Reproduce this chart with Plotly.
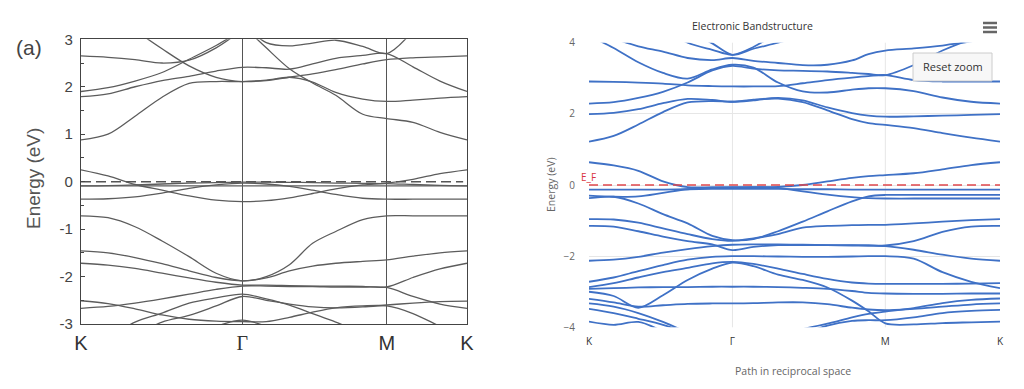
import plotly.graph_objects as go

# The page body adds an 8px margin; the figure is sized to fill the rest of the 1024x389 window.
OFF = 8
W, H = 1024 - OFF, 389 - OFF

# ---------------- Left panel (a): k-path K-Γ-M-K, energies in eV ----------------
LEFT_TICKS = ["K", "Γ", "M", "K"]
LEFT_POS = [0.0, 0.418, 0.792, 1.0]
LK = [0, 0.07, 0.14, 0.21, 0.28, 0.35, 0.418, 0.48, 0.54, 0.60, 0.66, 0.73, 0.792, 0.86, 0.93, 1.0]

left_c1 = [0.88, 1.0, 1.38, 1.78, 2.07, 2.11, 2.11, 2.14, 2.2, 2.1, 1.88, 1.74, 1.69, 1.72, 1.76, 1.79]
left_c2 = [None, None, 3.19, 2.8, 2.44, 2.2, 2.11, 2.13, 2.2, 2.27, 2.36, 2.48, 2.57, 2.61, 2.63, 2.65]
left_c3 = [2.65, 2.62, 2.57, 2.5, 2.56, 2.82, 3.2, None, None, None, None, None, None, None, None, None]
left_c4 = [1.90, 1.98, 2.12, 2.3, 2.58, 2.87, 3.2, None, None, None, None, None, None, None, None, None]
left_c5 = [1.79, 1.85, 2.0, 2.13, 2.22, 2.33, 2.41, 2.4, 2.37, 2.48, 2.6, 2.66, 2.70, 2.42, 2.12, 1.90]
left_c6 = [None, None, None, None, None, None, 3.3, 2.82, 2.38, 2.08, 1.82, 1.42, 1.33, 1.25, 1.04, 0.88]
left_c7 = [None, None, None, None, None, None, 3.35, 2.93, 2.86, 2.92, 2.98, 2.85, 2.70, 3.18, None, None]

left_v1 = [0.25, 0.12, -0.06, -0.18, -0.3, -0.39, -0.42, -0.4, -0.34, -0.25, -0.15, -0.07, -0.03, 0.05, 0.17, 0.25]
left_v2 = [-0.37, -0.36, -0.32, -0.24, -0.14, -0.07, -0.03, -0.05, -0.1, -0.18, -0.27, -0.35, -0.37, -0.37, -0.37, -0.37]
left_v3 = [-0.09, -0.085, -0.07, -0.05, -0.03, -0.02, -0.01, -0.01, -0.015, -0.02, -0.03, -0.035, -0.04, -0.06, -0.08, -0.09]
left_v4 = [-0.09, -0.09, -0.09, -0.09, -0.09, -0.09, -0.09, -0.09, -0.09, -0.09, -0.09, -0.09, -0.09, -0.09, -0.09, -0.09]
left_v5 = [-0.72, -0.76, -0.95, -1.25, -1.58, -1.93, -2.09, -2.0, -1.75, -1.3, -1.05, -0.8, -0.72, -0.72, -0.72, -0.72]
left_v6 = [-1.46, -1.5, -1.6, -1.73, -1.88, -2.02, -2.09, -2.03, -1.88, -1.78, -1.72, -1.68, -1.65, -1.57, -1.5, -1.46]
left_v7 = [-1.72, -1.76, -1.83, -1.93, -2.03, -2.12, -2.18, -2.18, -2.19, -2.2, -2.2, -2.21, -2.22, -2.02, -1.84, -1.72]
left_v8 = [-2.67, -2.63, -2.56, -2.47, -2.37, -2.27, -2.2, -2.2, -2.21, -2.21, -2.22, -2.22, -2.23, -2.42, -2.58, -2.67]
left_v9 = [None, -3.3, -2.96, -2.77, -2.56, -2.45, -2.37, -2.47, -2.6, -2.78, -2.96, -3.2, None, None, None, None]
left_v10 = [None, None, -3.25, -2.96, -2.82, -2.62, -2.42, -2.5, -2.58, -2.64, -2.66, -2.64, -2.6, -2.56, -2.53, -2.52]
left_v11 = [-2.51, -2.57, -2.68, -2.81, -2.9, -2.94, -2.95, -2.95, -2.86, -2.75, -2.66, -2.62, -2.62, -2.78, -3.05, -3.3]
left_v12 = [None, None, None, None, None, -3.05, -2.92, -3.05, None, None, None, None, None, None, None, None]

LEFT_BANDS = [left_c1, left_c2, left_c3, left_c4, left_c5, left_c6, left_c7,
              left_v1, left_v2, left_v3, left_v4, left_v5, left_v6, left_v7,
              left_v8, left_v9, left_v10, left_v11, left_v12]

# ---------------- Right panel: Electronic Bandstructure ----------------
RIGHT_TICKS = ["K", "Γ", "M", "K"]
RIGHT_POS = [0.0, 0.349, 0.721, 1.0]
RK = [0, 0.06, 0.12, 0.18, 0.24, 0.30, 0.349, 0.40, 0.46, 0.52, 0.58, 0.64, 0.68, 0.721, 0.79, 0.86, 0.93, 1.0]

r_u1 = [4.2, 3.85, 3.45, 3.15, 2.99, 3.25, 3.38, 3.3, 2.88, 2.63, 2.6, 2.68, 2.72, 2.72, 2.64, 2.46, 2.34, 2.29]
r_u2 = [None, 4.12, 3.9, 3.75, 3.57, 3.51, 3.57, 3.49, 3.43, 3.37, 3.38, 3.5, 3.68, 3.78, 3.84, 3.92, 4.04, 4.15]
r_u3 = [None, None, None, 4.4, 4.0, 3.8, 3.66, 3.88, 4.3, None, None, None, None, None, None, None, None, None]
r_u4 = [None, None, None, None, 4.35, 3.98, 3.66, 3.83, 4.0, 4.2, None, None, None, None, None, None, None, None]
r_u5 = [2.29, 2.33, 2.45, 2.62, 2.88, 3.22, 3.35, 3.27, 3.22, 3.21, 3.19, 3.15, 3.12, 3.09, 3.37, 3.78, 4.1, None]
r_u6 = [2.91, 2.9, 2.88, 2.85, 2.8, 2.78, 2.77, 2.77, 2.78, 2.86, 2.95, 3.02, 3.06, 3.09, 2.95, 2.91, 2.91, 2.91]
r_u7 = [1.99, 2.03, 2.13, 2.3, 2.42, 2.39, 2.34, 2.38, 2.45, 2.38, 2.18, 2.02, 1.95, 1.92, 1.93, 1.95, 1.97, 1.99]
r_u8 = [1.22, 1.38, 1.7, 2.05, 2.32, 2.36, 2.34, 2.4, 2.43, 2.33, 2.1, 1.85, 1.74, 1.69, 1.6, 1.46, 1.33, 1.22]

r_f1 = [0.64, 0.55, 0.4, 0.1, -0.06, -0.06, -0.06, -0.06, -0.08, -0.18, -0.27, -0.34, -0.37, -0.38, -0.38, -0.38, -0.38, -0.38]
r_f2 = [-0.13, -0.13, -0.13, -0.13, -0.12, -0.11, -0.11, -0.11, -0.11, -0.12, -0.12, -0.13, -0.13, -0.13, -0.13, -0.13, -0.13, -0.13]
r_f3 = [-0.30, -0.33, -0.32, -0.22, -0.12, -0.08, -0.07, -0.06, -0.05, 0.0, 0.1, 0.2, 0.25, 0.28, 0.33, 0.44, 0.56, 0.64]
r_f4 = [-0.37, -0.33, -0.52, -0.82, -1.08, -1.43, -1.55, -1.52, -1.3, -1.03, -0.74, -0.46, -0.32, -0.28, -0.28, -0.28, -0.28, -0.28]

r_g1 = [-0.96, -0.97, -1.06, -1.22, -1.38, -1.52, -1.57, -1.5, -1.38, -1.2, -1.15, -1.13, -1.12, -1.12, -1.08, -1.03, -0.99, -0.96]
r_g2 = [-1.15, -1.17, -1.3, -1.45, -1.58, -1.67, -1.83, -1.74, -1.69, -1.69, -1.69, -1.69, -1.69, -1.70, -1.58, -1.32, -1.17, -1.15]
r_g3 = [-2.13, -2.1, -2.02, -1.9, -1.8, -1.72, -1.68, -1.67, -1.67, -1.68, -1.69, -1.7, -1.71, -1.72, -1.82, -1.96, -2.07, -2.13]
r_g4 = [-2.72, -2.6, -2.42, -2.25, -2.1, -2.02, -2.0, -2.0, -2.01, -2.02, -2.02, -2.01, -2.0, -2.0, -2.07, -2.45, -2.72, -2.9]
r_g5 = [-2.87, -2.76, -2.6, -2.45, -2.33, -2.2, -2.16, -2.22, -2.35, -2.5, -2.64, -2.74, -2.77, -2.78, -2.78, -2.78, -2.77, -2.76]
r_g6 = [-3.0, -3.12, -3.45, -3.1, -2.67, -2.35, -2.18, -2.28, -2.52, -2.67, -2.88, -3.25, -3.55, -3.89, -3.92, -3.88, -3.86, -3.84]
r_g7 = [-2.92, -2.9, -2.88, -2.87, -2.87, -2.86, -2.86, -2.86, -2.87, -2.89, -2.92, -2.98, -3.03, -3.05, -3.06, -3.06, -3.05, -3.05]
r_g8 = [-3.2, -3.3, -3.42, -3.38, -3.34, -3.33, -3.33, -3.32, -3.3, -3.3, -3.35, -3.45, -3.5, -3.52, -3.48, -3.42, -3.36, -3.33]
r_g9 = [-3.33, -3.42, -3.6, -3.85, -4.15, None, None, None, None, None, None, None, None, None, None, None, None, None]
r_g10 = [-3.48, -3.6, -3.76, -3.93, -4.15, None, None, None, None, None, None, None, None, None, None, None, None, None]
r_g11 = [-3.84, -3.93, -3.85, -4.12, None, None, None, None, None, None, None, None, None, None, None, None, None, None]
r_g12 = [None, None, None, None, None, None, None, None, None, -4.05, -3.9, -3.72, -3.62, -3.56, -3.46, -3.32, -3.23, -3.19]
r_g13 = [None, None, None, None, None, None, None, None, None, -4.2, -3.95, -3.82, -3.8, -3.8, -3.72, -3.6, -3.54, -3.51]

RIGHT_BANDS = [r_u1, r_u2, r_u3, r_u4, r_u5, r_u6, r_u7, r_u8,
               r_f1, r_f2, r_f3, r_f4,
               r_g1, r_g2, r_g3, r_g4, r_g5, r_g6, r_g7, r_g8, r_g9, r_g10, r_g11, r_g12, r_g13]

FERMI = 0.0

# ---------------- figure ----------------
fig = go.Figure()

for band in LEFT_BANDS:
    fig.add_trace(go.Scatter(x=LK, y=band, mode="lines", xaxis="x", yaxis="y",
                             line=dict(color="#5c5c5c", width=1.3, shape="spline", smoothing=0.9),
                             hoverinfo="skip", showlegend=False))
fig.add_trace(go.Scatter(x=[0.0, 0.99], y=[FERMI, FERMI], mode="lines", xaxis="x", yaxis="y",
                         line=dict(color="#555555", width=1.5, dash="10px,5px"),
                         hoverinfo="skip", showlegend=False))

for band in RIGHT_BANDS:
    fig.add_trace(go.Scatter(x=RK, y=band, mode="lines", xaxis="x2", yaxis="y2",
                             line=dict(color="#3f71c6", width=1.8, shape="spline", smoothing=0.9),
                             hoverinfo="skip", showlegend=False))
fig.add_trace(go.Scatter(x=[0.0, 1.0], y=[FERMI, FERMI], mode="lines", xaxis="x2", yaxis="y2",
                         line=dict(color="#e0474c", width=1.3, dash="9px,5px"),
                         hoverinfo="skip", showlegend=False))


def px(x):
    """window pixel x -> paper fraction"""
    return (x - OFF) / W


def py(y):
    """window pixel y (from top) -> paper fraction"""
    return 1 - (y - OFF) / H


left_ticktext = [t if t != "Γ" else '<span style="font-family:Liberation Serif">Γ</span>' for t in LEFT_TICKS]

fig.update_layout(
    template="none",
    width=W, height=H,
    margin=dict(l=0, r=0, t=0, b=0, autoexpand=False),
    paper_bgcolor="white", plot_bgcolor="white",
    showlegend=False, hovermode=False,
    xaxis=dict(domain=[px(81), px(467)], range=[0, 1], anchor="y", automargin=False,
               tickvals=LEFT_POS, ticktext=left_ticktext,
               showgrid=True, gridcolor="#555555", gridwidth=1,
               showline=True, mirror=True, linecolor="#444444", linewidth=1.3,
               ticks="", zeroline=False, ticklabelstandoff=1,
               tickfont=dict(family="Liberation Sans", size=20, color="#333333")),
    yaxis=dict(domain=[py(324), py(39.3)], range=[-3, 3], anchor="x", automargin=False,
               tickvals=[-3, -2, -1, 0, 1, 2, 3], ticktext=["-3", "-2", "-1", "0", "1", "2", "3"],
               ticks="inside", ticklen=4, tickcolor="#444444",
               minor=dict(ticks="inside", ticklen=3, tickcolor="#444444",
                          tickvals=[-2.5, -1.5, -0.5, 0.5, 1.5, 2.5]),
               showgrid=False, zeroline=False,
               showline=True, mirror=True, linecolor="#444444", linewidth=1.3,
               ticklabelstandoff=4,
               tickfont=dict(family="Liberation Sans", size=15, color="#444444")),
    xaxis2=dict(domain=[px(589), px(1000)], range=[0, 1], anchor="y2", automargin=False,
                tickvals=RIGHT_POS, ticktext=RIGHT_TICKS,
                showgrid=False, zeroline=False, showline=False, ticks="",
                ticklabelstandoff=7,
                tickfont=dict(family="Open Sans", size=10, color="#333333")),
    yaxis2=dict(domain=[py(327.3), py(42.7)], range=[-4, 4], anchor="x2", automargin=False,
                tickvals=[-4, -2, 0, 2, 4],
                showgrid=True, gridcolor="#e6e6e6", gridwidth=1,
                zeroline=False, showline=False, ticks="",
                ticklabelstandoff=13,
                tickfont=dict(family="Open Sans", size=10, color="#666666")),
)

shapes = []
for xv in RIGHT_POS[1:3]:
    shapes.append(dict(type="line", xref="x2", yref="y2 domain", x0=xv, x1=xv, y0=0, y1=1,
                       line=dict(color="#e6e6e6", width=1), layer="below"))
# hamburger menu icon
for yy in (23, 27.5, 32):
    shapes.append(dict(type="line", xref="paper", yref="paper",
                       x0=px(983), x1=px(997), y0=py(yy), y1=py(yy),
                       line=dict(color="#666666", width=2.5)))
# reset zoom button
shapes.append(dict(type="rect", xref="paper", yref="paper",
                   x0=px(913), x1=px(992), y0=py(81), y1=py(53),
                   fillcolor="#f7f7f7", line=dict(color="#cccccc", width=1), layer="above"))
fig.update_layout(shapes=shapes)

annotations = [
    dict(text="(a)", x=px(29), y=py(47), font=dict(family="Liberation Sans", size=21, color="#444444")),
    dict(text="Energy (eV)", x=px(33), y=py(179), textangle=-90,
         font=dict(family="Liberation Sans", size=19, color="#555555")),
    dict(text="Electronic Bandstructure", x=px(752), y=py(26),
         font=dict(family="Open Sans", size=10.5, color="#333333")),
    dict(text="Energy (eV)", x=px(551), y=py(185), textangle=-90,
         font=dict(family="Open Sans", size=10.5, color="#666666")),
    dict(text="Path in reciprocal space", x=px(793), y=py(371),
         font=dict(family="Open Sans", size=10.5, color="#666666")),
    dict(text="E_F", x=px(588), y=py(177),
         font=dict(family="Open Sans", size=10, color="#d9363e")),
    dict(text="Reset zoom", x=px(952.5), y=py(67),
         font=dict(family="Open Sans", size=11, color="#333333")),
]
for a in annotations:
    a.update(xref="paper", yref="paper", showarrow=False, xanchor="center", yanchor="middle")
fig.update_layout(annotations=annotations)

fig.write_html("out.html")
